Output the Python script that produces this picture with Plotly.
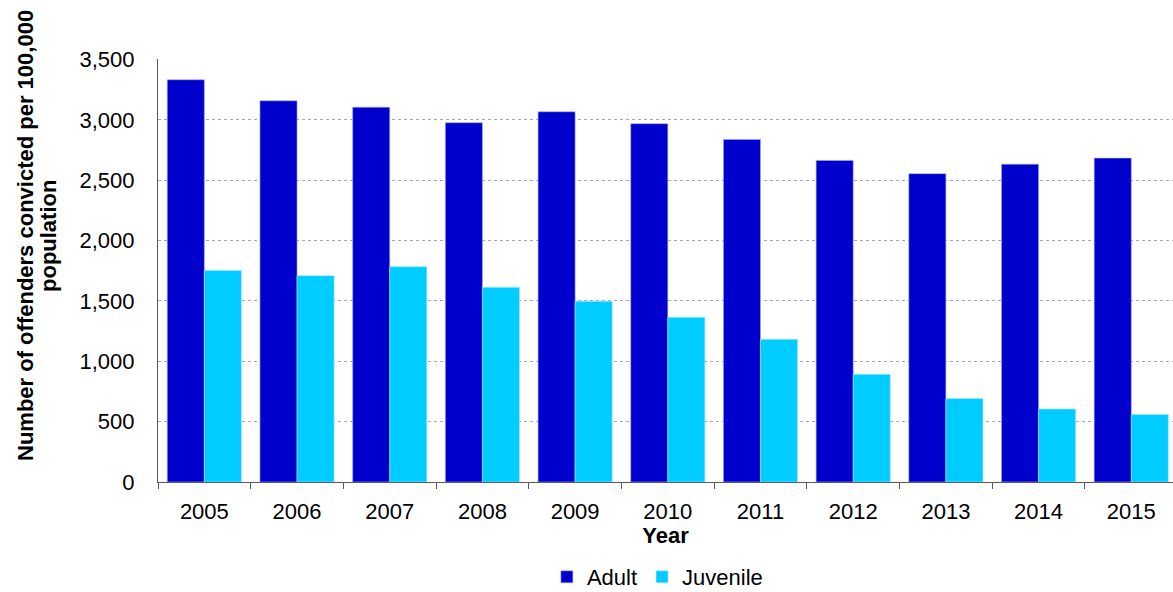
import plotly.graph_objects as go

years = ["2005", "2006", "2007", "2008", "2009", "2010",
         "2011", "2012", "2013", "2014", "2015"]
adult = [3332, 3158, 3105, 2976, 3067, 2968, 2838, 2664, 2554, 2633, 2683]
juvenile = [1753, 1709, 1784, 1613, 1497, 1364, 1182, 892, 691, 605, 559]
y_ticks = [0, 500, 1000, 1500, 2000, 2500, 3000, 3500]
y_title_lines = ["Number of offenders convicted per 100,000", "population"]

FONT = "Liberation Sans, Arial, sans-serif"
M_L, M_T, M_B, W, H = 158, 59, 110, 1173, 592
PLOT_W = W - M_L
PLOT_H = H - M_T - M_B

fig = go.Figure()
fig.add_trace(go.Bar(name="Adult", x=years, y=adult,
                     marker=dict(color="#0000CC", line=dict(width=0.6, color="#A8A8F0"))))
fig.add_trace(go.Bar(name="Juvenile", x=years, y=juvenile,
                     marker=dict(color="#00CCFF", line=dict(width=0.6, color="#A8ECFF"))))

fig.update_layout(
    width=W, height=H,
    margin=dict(l=M_L, r=0, t=M_T, b=M_B, autoexpand=False),
    plot_bgcolor="white", paper_bgcolor="white",
    barmode="group", bargap=0.2, bargroupgap=0,
    font=dict(family=FONT, size=22, color="black"),
    legend=dict(orientation="h", x=0.492, xanchor="center",
                y=-(577 - (M_T + PLOT_H)) / PLOT_H, yanchor="middle",
                font=dict(size=22), itemwidth=30, traceorder="normal",
                tracegroupgap=0),
    showlegend=True,
)

fig.update_xaxes(
    type="category", range=[-0.5, 10.45], automargin=False,
    showline=True, linecolor="#5A5A5A", linewidth=1.2,
    ticks="outside", tickson="boundaries", ticklen=6, tickcolor="#5A5A5A",
    tickfont=dict(size=22), ticklabelstandoff=9,
    title=dict(text="<b>Year</b>", font=dict(size=22), standoff=5),
    showgrid=False,
)

fig.update_yaxes(
    range=[0, 3504], tickvals=y_ticks, tickformat=",", automargin=False,
    showline=True, linecolor="#5A5A5A", linewidth=1.2,
    ticks="", tickfont=dict(size=22), ticklabelstandoff=18,
    showgrid=True, gridcolor="#A8A8A8", griddash="dot", gridwidth=1,
    zeroline=False,
)

# two-line rotated y-axis title, tightly spaced
title_centre_y = 1 - (236 - M_T) / PLOT_H
for line, cx in zip(y_title_lines, [25, 48]):
    fig.add_annotation(
        text=f"<b>{line}</b>", textangle=-90, showarrow=False,
        xref="paper", yref="paper",
        x=(cx - M_L) / PLOT_W, y=title_centre_y,
        xanchor="center", yanchor="middle",
        font=dict(size=22, family=FONT, color="black"),
    )

fig.write_html("out.html")
